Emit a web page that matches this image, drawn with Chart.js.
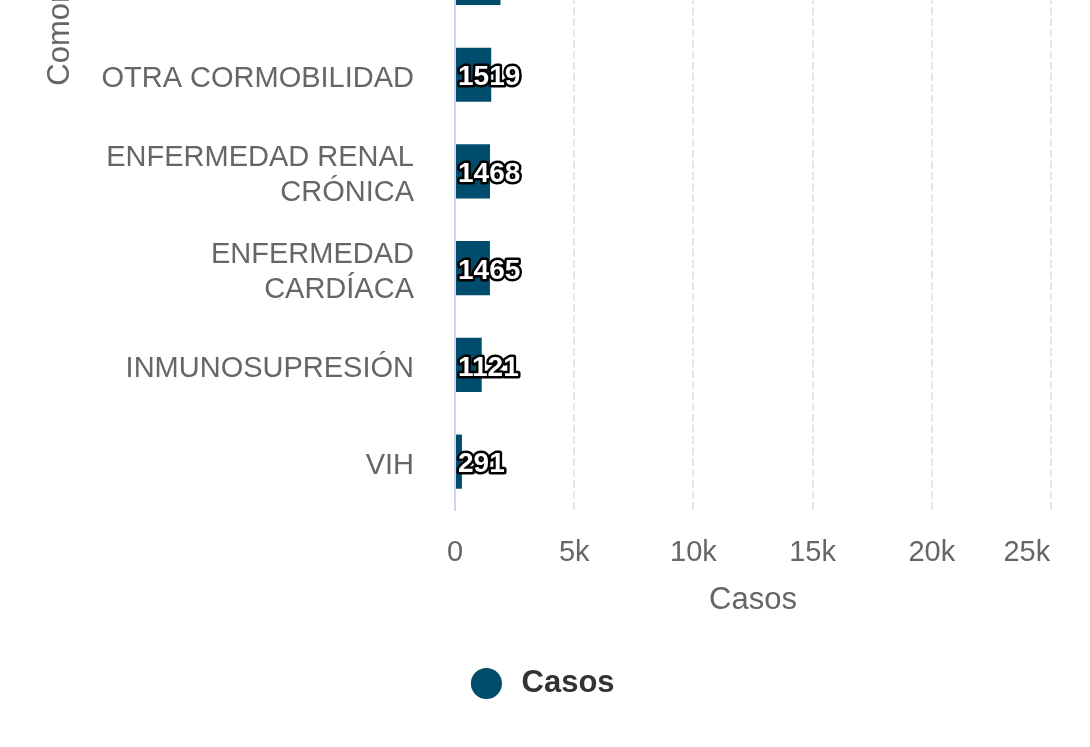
<!DOCTYPE html>
<html>
<head>
<meta charset="utf-8">
<script src="https://cdn.jsdelivr.net/npm/chart.js@4/dist/chart.umd.min.js"></script>
<style>
  html, body { margin: 0; padding: 0; background: #fff; }
  #wrap { position: relative; width: 1090px; height: 747px; overflow: hidden; }
  /* the picture only shows the lower part of a taller chart */
  #inner { position: absolute; left: 0; top: -564px; width: 1090px; height: 1311px; }
</style>
</head>
<body>
<div id="wrap"><div id="inner"><canvas id="c"></canvas></div></div>
<script>
// rows above OTRA CORMOBILIDAD are cut off in the picture: names unknown,
// only the bottom edge of the one just above is visible (~1910)
const categories = ['', '', '', '', '', '', 'OTRA CORMOBILIDAD', ['ENFERMEDAD RENAL', 'CRÓNICA'], ['ENFERMEDAD', 'CARDÍACA'], 'INMUNOSUPRESIÓN', 'VIH'];
const casos = [null, null, null, null, null, 1910, 1519, 1468, 1465, 1121, 291];
const xTicks = [0, 5000, 10000, 15000, 20000, 25000];

const FONT = "'Liberation Sans', Arial, sans-serif";
const GRAY = '#666666';
const BAR = '#004c6d';

Chart.defaults.font.family = FONT;

const barLabels = {
  id: 'barLabels',
  afterDatasetsDraw(chart) {
    const ctx = chart.ctx;
    const meta = chart.getDatasetMeta(0);
    ctx.save();
    ctx.font = 'bold 28px ' + FONT;
    ctx.textAlign = 'left';
    ctx.textBaseline = 'middle';
    ctx.lineJoin = 'round';
    ctx.lineWidth = 5;
    ctx.strokeStyle = '#000';
    ctx.fillStyle = '#fff';
    meta.data.forEach((bar, i) => {
      const v = chart.data.datasets[0].data[i];
      if (v == null) return;
      const x = bar.base + 2, y = bar.y + 3;
      ctx.strokeText(String(v), x, y);
      ctx.fillText(String(v), x, y);
    });
    ctx.restore();
  }
};

new Chart(document.getElementById('c'), {
  type: 'bar',
  data: {
    labels: categories,
    datasets: [{
      label: 'Casos',
      data: casos,
      backgroundColor: BAR,
      borderWidth: 0,
      categoryPercentage: 1,
      barPercentage: 0.56
    }]
  },
  options: {
    indexAxis: 'y',
    responsive: true, maintainAspectRatio: false,
    animation: false,
    layout: { padding: { top: 10, left: 0, right: 0, bottom: 38 } },
    plugins: {
      tooltip: { enabled: false },
      legend: {
        position: 'bottom',
        labels: {
          usePointStyle: true, pointStyle: 'circle',
          boxHeight: 22, boxWidth: 22,
          padding: 45,
          color: '#333333',
          font: { size: 31, weight: 'bold' },
          generateLabels: c => Chart.defaults.plugins.legend.labels.generateLabels(c).map(l => ({ ...l, text: ' ' + l.text }))
        }
      }
    },
    scales: {
      x: {
        min: 0, max: 25000,
        afterBuildTicks: s => { s.ticks = xTicks.map(v => ({ value: v })); },
        afterFit: s => { s.height = 113; s.paddingRight = 39; },
        grid: { color: '#e6e6e6', lineWidth: 2, drawTicks: false },
        border: { display: false, dash: [8, 3] },
        ticks: {
          color: GRAY, padding: 26, font: { size: 29 },
          // last label sits left of its grid line in the picture
          callback: (v, i, t) => (v === 0 ? '0' : v / 1000 + 'k') + (i === t.length - 1 ? '      ' : '')
        },
        title: { display: true, text: 'Casos', color: GRAY, font: { size: 31 }, padding: { top: 0, bottom: 4 } }
      },
      y: {
        afterFit: s => { s.width = 455; s.paddingTop = 0; s.paddingBottom = 0; },
        grid: { drawOnChartArea: false, drawTicks: false },
        border: { display: true, color: '#ccd6eb', width: 2 },
        ticks: { color: GRAY, padding: 41, labelOffset: 4, font: { size: 29 } },
        title: { display: true, text: 'Comorbilidades', color: GRAY, font: { size: 31 }, padding: { top: 42, bottom: 0 } }
      }
    }
  },
  plugins: [barLabels]
});
</script>
</body>
</html>
